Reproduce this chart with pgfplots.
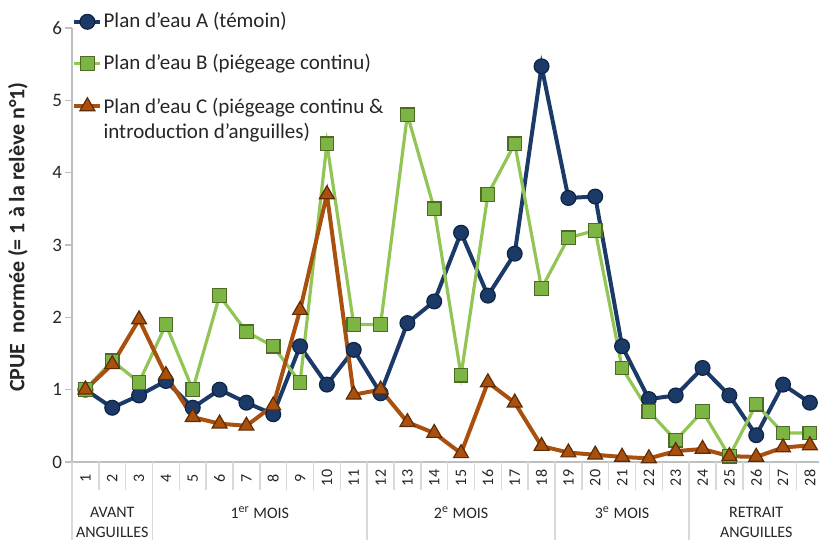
\documentclass[border=0pt]{standalone}
\usepackage{pgfplots}
\pgfplotsset{compat=1.18}
\usepackage{fontspec}
\setmainfont{Carlito}
\definecolor{cA}{HTML}{1B3A68}
\definecolor{cAe}{HTML}{0E2444}
\definecolor{cB}{HTML}{92C556}
\definecolor{cBf}{HTML}{7DB545}
\definecolor{cBe}{HTML}{4E6B26}
\definecolor{cC}{HTML}{A9500E}
\definecolor{cCe}{HTML}{5E2B05}
\definecolor{gridc}{HTML}{D9D9D9}
\definecolor{axc}{HTML}{BFBFBF}
\definecolor{txt}{HTML}{262626}
\begin{document}
\begin{tikzpicture}
\useasboundingbox (-36pt,-39pt) rectangle (373.5pt,231pt);
\begin{axis}[at={(0,0)}, anchor=south west, scale only axis,
  width=373.5pt, height=217pt,
  xmin=0.5, xmax=28.34, ymin=0, ymax=6,
  axis lines*=left, axis line style={axc, line width=0.8pt},
  xtick=\empty, ytick={0,...,6},
  y tick style={axc, line width=0.8pt}, tick align=outside, major tick length=3.5pt,
  yticklabel style={font=\fontsize{9.5}{10}\selectfont, xshift=2pt, text=txt},
  /pgf/number format/assume math mode=true,
  clip=false,
  legend style={at={(rel axis cs:0,1)}, anchor=north west, yshift=8.5pt, draw=none, fill=none,
    inner sep=0pt, row sep=10.5pt, font=\fontsize{10.5}{12.5}\selectfont, text=txt,
    nodes={inner sep=0.6pt}},
  legend cell align=left,
  legend image code/.code={\draw[mark repeat=2,mark phase=2,#1] plot coordinates {(0pt,0pt) (6.5pt,0pt) (13pt,0pt)};},
]
\addplot[cA, line width=2pt, mark=*, mark size=3.7pt, mark options={fill=cA, draw=cAe, line width=0.6pt}] coordinates {
(1,1.0) (2,0.75) (3,0.92) (4,1.12) (5,0.75) (6,1.0) (7,0.82) (8,0.66) (9,1.6) (10,1.07)
(11,1.55) (12,0.95) (13,1.92) (14,2.22) (15,3.17) (16,2.3) (17,2.88) (18,5.47) (19,3.65) (20,3.67)
(21,1.6) (22,0.87) (23,0.92) (24,1.3) (25,0.92) (26,0.37) (27,1.07) (28,0.82)};
\addlegendentry{Plan d'eau A (témoin)}
\addplot[cB, line width=1.6pt, mark=square*, mark size=3.4pt, mark options={fill=cBf, draw=cBe, line width=0.6pt}] coordinates {
(1,1.0) (2,1.4) (3,1.1) (4,1.9) (5,1.0) (6,2.3) (7,1.8) (8,1.6) (9,1.1) (10,4.4)
(11,1.9) (12,1.9) (13,4.8) (14,3.5) (15,1.2) (16,3.7) (17,4.4) (18,2.4) (19,3.1) (20,3.2)
(21,1.3) (22,0.7) (23,0.3) (24,0.7) (25,0.08) (26,0.8) (27,0.4) (28,0.4)};
\addlegendentry{Plan d'eau B (piégeage continu)}
\addplot[cC, line width=2pt, mark=triangle*, mark size=4.3pt, mark options={fill=cC, draw=cCe, line width=0.6pt}] coordinates {
(1,1.0) (2,1.35) (3,1.97) (4,1.2) (5,0.62) (6,0.53) (7,0.5) (8,0.78) (9,2.1) (10,3.7)
(11,0.93) (12,1.0) (13,0.55) (14,0.4) (15,0.12) (16,1.1) (17,0.82) (18,0.22) (19,0.13) (20,0.1)
(21,0.07) (22,0.05) (23,0.15) (24,0.18) (25,0.08) (26,0.07) (27,0.2) (28,0.23)};
\addlegendentry{\begin{tabular}[t]{@{}l@{}}Plan d'eau C (piégeage continu \&\\introduction d'anguilles)\end{tabular}}
\pgfplotsinvokeforeach{1.5,2.5,...,27.5}{\draw[gridc, line width=0.8pt] (axis cs:#1,0) -- ([yshift=-14pt]axis cs:#1,0);}
\pgfplotsinvokeforeach{0.5,3.5,11.5,18.5,23.5}{\draw[gridc, line width=0.8pt] (axis cs:#1,0) -- ([yshift=-40pt]axis cs:#1,0);}
\pgfplotsinvokeforeach{1,...,28}{\node[rotate=90, text=txt, font=\fontsize{8}{9}\selectfont] at ([yshift=-8pt]axis cs:#1,0) {#1};}
\tikzset{grp/.style={anchor=north, align=center, text=txt, font=\fontsize{8}{10}\selectfont}}
\node[grp] at ([yshift=-19pt]axis cs:2,0) {AVANT\\ANGUILLES};
\node[grp] at ([yshift=-19pt]axis cs:7.5,0) {1\textsuperscript{er} MOIS};
\node[grp] at ([yshift=-19pt]axis cs:15,0) {2\textsuperscript{e} MOIS};
\node[grp] at ([yshift=-19pt]axis cs:21,0) {3\textsuperscript{e} MOIS};
\node[grp] at ([yshift=-19pt]axis cs:26,0) {RETRAIT\\ANGUILLES};
\node[rotate=90, text=txt, font=\bfseries\fontsize{11}{13}\selectfont] at ([xshift=-27pt,yshift=4pt]rel axis cs:0,0.5) {CPUE\ \ normée (= 1 à la relève n°1)};
\end{axis}
\end{tikzpicture}
\end{document}
